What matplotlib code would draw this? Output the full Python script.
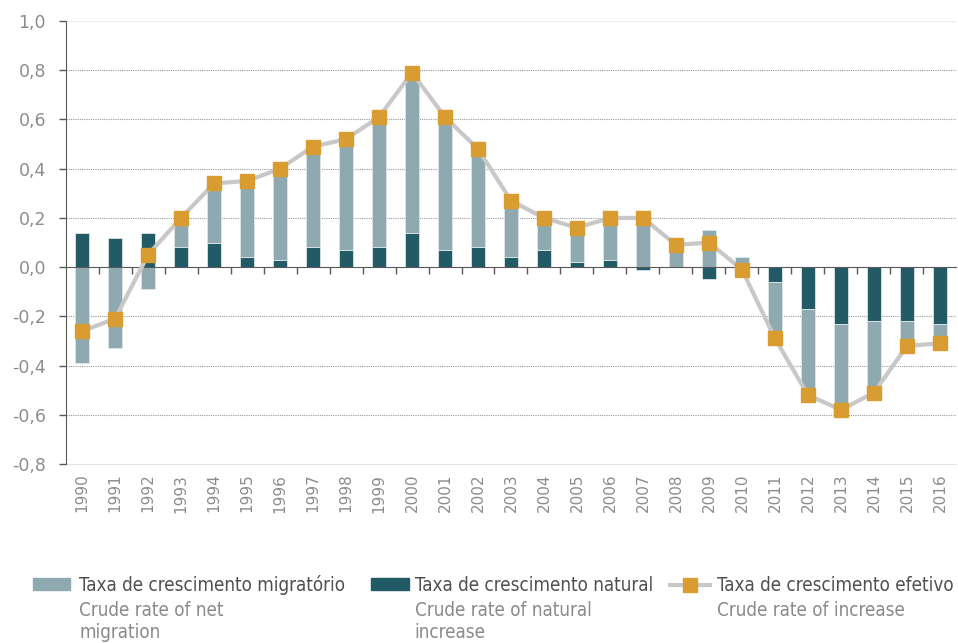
import matplotlib.pyplot as plt
import numpy as np
from matplotlib.patches import Rectangle
from matplotlib.lines import Line2D
from matplotlib import font_manager

# dados
anos = ['1990', '1991', '1992', '1993', '1994', '1995', '1996', '1997', '1998',
        '1999', '2000', '2001', '2002', '2003', '2004', '2005', '2006', '2007',
        '2008', '2009', '2010', '2011', '2012', '2013', '2014', '2015', '2016']
natural = [0.14, 0.12, 0.14, 0.08, 0.10, 0.04, 0.03, 0.08, 0.07, 0.08, 0.14, 0.07,
           0.08, 0.04, 0.07, 0.02, 0.03, -0.01, 0.00, -0.05, -0.04, -0.06, -0.17,
           -0.23, -0.22, -0.22, -0.23]
migratorio = [-0.39, -0.33, -0.09, 0.11, 0.24, 0.31, 0.37, 0.41, 0.45, 0.53, 0.65,
              0.54, 0.40, 0.23, 0.13, 0.14, 0.16, 0.21, 0.09, 0.15, 0.04, -0.23,
              -0.36, -0.37, -0.29, -0.10, -0.08]
efetivo = [-0.26, -0.21, 0.05, 0.20, 0.34, 0.35, 0.40, 0.49, 0.52, 0.61, 0.79, 0.61,
           0.48, 0.27, 0.20, 0.16, 0.20, 0.20, 0.09, 0.10, -0.01, -0.29, -0.52,
           -0.58, -0.51, -0.32, -0.31]
yticks = [-0.8, -0.6, -0.4, -0.2, 0.0, 0.2, 0.4, 0.6, 0.8, 1.0]

c_nat = '#225a66'
c_mig = '#8eaab0'
c_lin = '#c8c8c8'
c_mark = '#d99c30'
c_txt = '#8c8c8c'

x = np.arange(len(anos))
nat = np.array(natural)
mig = np.array(migratorio)
# empilhamento divergente: positivos para cima, negativos para baixo
base_mig = np.where(np.sign(mig) == np.sign(nat), nat, 0.0)

fig = plt.figure(figsize=(9.58, 6.43), dpi=100)
ax = fig.add_axes([0.0684, 0.2784, 0.93, 0.6889])

for y in yticks[1:-1]:
    if y != 0:
        ax.axhline(y, color='#9a9a9a', lw=0.8, ls=(0, (1, 1)), zorder=0)
ax.axhline(1.0, color='#ececec', lw=0.8, zorder=0)

ax.bar(x, nat, width=0.4, color=c_nat, edgecolor='#dbe6e8', lw=0.6, zorder=2)
ax.bar(x, mig, width=0.4, bottom=base_mig, color=c_mig, edgecolor='#dbe6e8', lw=0.6, zorder=2)
ax.plot(x, efetivo, color=c_lin, lw=3, marker='s', ms=10, mfc=c_mark, mec=c_mark,
        zorder=4, solid_capstyle='butt')

ax.set_xlim(-0.5, len(anos) - 0.5)
ax.set_ylim(-0.8, 1.0)

# eixo y
ax.set_yticks(yticks)
ax.set_yticklabels([('%.1f' % v).replace('.', ',') for v in yticks])
ax.tick_params(axis='y', length=5, width=1, color='#595959', labelcolor=c_txt,
               labelsize=12.5, pad=9)
ax.spines['left'].set_color('#595959')
ax.spines['right'].set_visible(False)
ax.spines['top'].set_visible(False)

# eixo x no zero com as marcas entre as barras
ax.spines['bottom'].set_position(('data', 0))
ax.spines['bottom'].set_color('#595959')
ax.set_xticks([])
ax.set_xticks(x[:-1] + 0.5, minor=True)
ax.tick_params(axis='x', which='minor', length=5, width=1, color='#595959', direction='out')

# anos em baixo
sec = ax.secondary_xaxis(0.0)
sec.set_xticks(x)
sec.set_xticklabels(anos, rotation=90)
sec.tick_params(axis='x', length=0, pad=7, labelcolor=c_txt, labelsize=11)
sec.spines['bottom'].set_color('#e4e4e4')

# legenda feita à mão
fp = font_manager.FontProperties(family='DejaVu Sans', stretch='condensed')
if 'ondensed' in font_manager.findfont(fp):
    leg = dict(family='DejaVu Sans', fontstretch='condensed', fontsize=13.5)
else:
    leg = dict(family='DejaVu Sans', fontsize=12.2)
c1 = '#505050'
c2 = '#8a8a8a'
fig.add_artist(Rectangle((0.0344, 0.0824), 0.0386, 0.0187, transform=fig.transFigure,
                         color=c_mig))
fig.add_artist(Rectangle((0.3873, 0.0824), 0.0397, 0.0187, transform=fig.transFigure,
                         color=c_nat))
fig.add_artist(Line2D([0.697, 0.743], [0.0902, 0.0902], transform=fig.transFigure,
                      color=c_lin, lw=3, solid_capstyle='butt'))
fig.add_artist(Line2D([0.720], [0.0902], transform=fig.transFigure,
                      marker='s', ms=10, mfc=c_mark, mec=c_mark, lw=0))

fig.text(0.0825, 0.0902, 'Taxa de crescimento migratório', color=c1, va='center', **leg)
fig.text(0.0825, 0.0500, 'Crude rate of net', color=c2, va='center', **leg)
fig.text(0.0825, 0.0160, 'migration', color=c2, va='center', **leg)
fig.text(0.4330, 0.0902, 'Taxa de crescimento natural', color=c1, va='center', **leg)
fig.text(0.4330, 0.0500, 'Crude rate of natural', color=c2, va='center', **leg)
fig.text(0.4330, 0.0160, 'increase', color=c2, va='center', **leg)
fig.text(0.7485, 0.0902, 'Taxa de crescimento efetivo', color=c1, va='center', **leg)
fig.text(0.7485, 0.0500, 'Crude rate of increase', color=c2, va='center', **leg)

fig.savefig('out.png', dpi=100)
